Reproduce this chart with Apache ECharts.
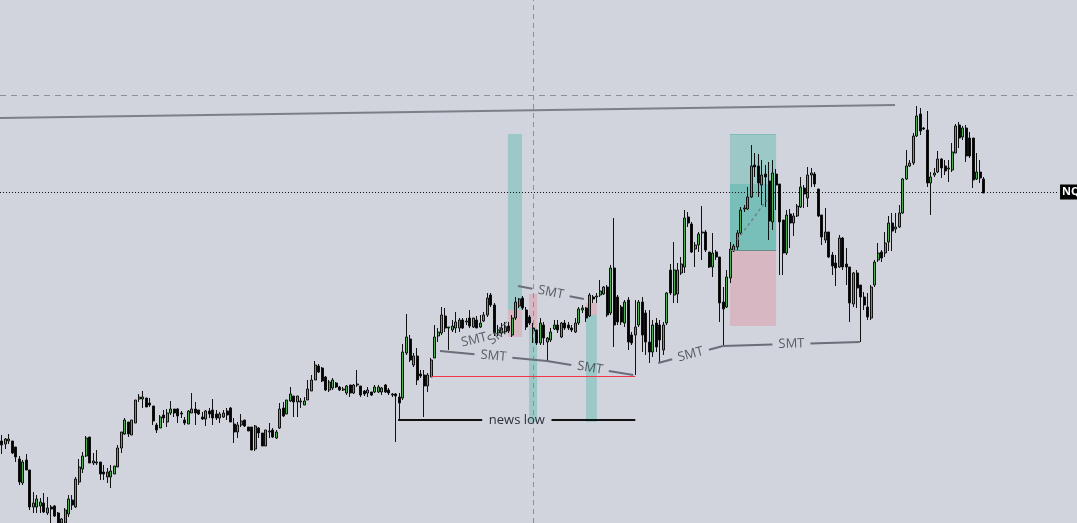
<!DOCTYPE html>
<html><head><meta charset="utf-8">
<script src="https://cdn.jsdelivr.net/npm/echarts@6/dist/echarts.min.js"></script>
<style>html,body{margin:0;padding:0;background:#d1d4dd}#c{width:1077px;height:523px}</style>
</head><body><div id="c"></div>
<script>
// OHLC candles: [open, close, low, high]
const candles = [
[559,555,546,565],[556,561,551,562],[559,561,556,566],[559,547,546,559],[553,543,538,553],[541,518,515,544],[517,538,515,540],[540,530,530,546],[530,493,490,530],[493,497,487,508],
[493,501,487,505],[494,498,487,502],[497,488,487,507],[487,492,485,503],[493,491,477,495],[494,484,483,495],[487,477,474,488],[477,481,475,482],[477,490,475,492],[486,501,483,505],
[500,495,490,505],[493,521,492,523],[518,533,515,541],[531,544,527,548],[544,562,543,564],[563,537,537,563],[537,539,535,547],[537,538,535,550],[538,526,520,538],[528,526,520,535],
[523,528,517,532],[523,529,512,535],[526,534,526,534],[533,552,533,555],[552,568,547,568],[566,580,565,582],[578,566,563,578],[565,580,565,580],[577,600,577,600],[601,603,598,606],
[601,603,592,609],[602,593,593,602],[597,595,593,602],[594,579,575,594],[575,570,567,577],[572,583,572,585],[585,582,577,590],[578,587,573,591],[587,591,585,599],[591,587,583,591],
[591,584,577,592],[587,586,582,589],[580,577,575,583],[576,589,576,590],[587,591,587,607],[591,587,575,598],[590,586,585,590],[583,581,580,588],[581,589,574,590],[589,586,582,592],
[590,582,575,601],[586,582,580,590],[582,586,577,588],[583,587,582,590],[589,585,580,592],[592,578,578,593],[576,568,557,582],[568,575,562,578],[575,579,573,586],[580,574,573,580],
[573,569,569,573],[573,550,550,573],[551,574,549,575],[572,567,562,573],[567,554,554,567],[554,570,554,570],[568,569,562,577],[570,563,562,572],[562,568,561,570],[572,591,571,597],
[592,584,583,598],[586,600,586,600],[599,606,598,613],[604,598,583,604],[598,604,583,604],[598,599,592,602],[595,599,595,603],[600,611,600,620],[609,620,609,625],[620,635,620,639],
[634,628,627,636],[632,619,618,633],[623,610,609,624],[610,618,608,620],[612,620,610,622],[617,613,612,618],[613,610,609,614],[610,611,609,613],[607,614,605,615],[615,607,603,615],
[607,615,606,616],[615,616,613,630],[614,605,603,614],[609,606,604,610],[607,610,603,613],[608,605,604,608],[608,613,607,615],[608,613,607,615],[608,612,605,613],[615,608,607,616],
[610,607,605,612],[606,605,603,607],[606,604,558,607],[603,597,580,607],[602,648,600,656],[647,663,645,686],[661,640,638,665],[635,644,633,647],[644,620,615,652],[626,624,622,630],
[625,614,583,630],[614,625,608,627],[623,640,623,642],[642,663,642,675],[664,668,658,672],[667,685,665,693],[684,672,668,692],[672,673,650,673],[670,674,668,680],[672,678,667,688],
[672,680,668,682],[680,672,671,682],[678,679,675,682],[682,674,672,690],[673,682,672,682],[680,672,672,684],[673,677,672,685],[679,685,678,688],[685,702,683,707],[705,695,693,707],
[695,667,664,697],[667,670,664,675],[667,672,665,677],[668,673,666,678],[674,669,667,678],[665,682,663,685],[682,698,680,703],[694,701,692,702],[702,692,690,704],[690,673,670,693],
[683,677,675,685],[672,669,657,677],[670,657,655,670],[657,677,655,682],[675,662,655,678],[658,662,639,663],[660,668,658,672],[671,675,670,680],[675,670,667,680],[663,677,662,678],
[677,672,670,680],[675,672,670,678],[672,670,668,675],[668,677,667,682],[677,691,675,693],[690,692,687,695],[692,682,678,693],[684,705,683,707],[703,701,697,705],[703,704,697,707],
[705,709,703,720],[706,713,705,714],[713,685,683,715],[687,732,685,735],[732,675,653,782],[703,678,675,705],[693,678,675,695],[677,698,673,700],[700,658,650,703],[665,657,655,668],
[665,673,625,700],[675,698,673,700],[698,665,648,703],[687,658,645,690],[658,648,637,690],[648,675,643,680],[677,653,648,682],[675,660,638,680],[650,675,645,678],[677,707,675,708],
[730,707,705,736],[705,730,697,758],[706,730,697,737],[727,736,725,743],[733,782,727,790],[783,777,773,788],[776,748,747,778],[751,755,733,758],[755,766,748,768],[767,768,740,794],
[768,750,748,770],[748,733,732,748],[733,747,723,767],[748,743,740,750],[743,697,678,743],[698,691,653,713],[693,723,692,730],[722,751,717,758],[749,754,748,756],[753,767,750,770],
[767,790,765,793],[791,792,788,795],[791,803,790,813],[803,834,802,855],[835,833,823,847],[834,817,803,846],[815,825,795,840],[826,823,793,835],[819,779,760,838],[778,827,770,840],
[826,815,790,831],[816,778,725,816],[780,747,725,780],[747,785,745,790],[786,777,752,791],[777,784,764,787],[784,794,783,796],[793,813,792,823],[812,806,792,815],[802,825,793,833],
[825,827,813,832],[826,816,813,828],[811,784,783,811],[785,763,755,785],[760,768,757,792],[768,743,742,768],[745,734,725,748],[737,732,714,745],[733,762,732,765],[762,733,730,763],
[736,733,715,752],[733,697,678,733],[696,727,693,728],[727,712,692,730],[715,703,658,715],[703,695,690,708],[693,683,680,707],[682,713,680,715],[715,738,713,740],[740,747,738,757],
[748,742,738,750],[747,757,743,768],[758,777,749,784],[777,769,749,787],[771,773,767,787],[773,787,772,795],[787,821,786,822],[821,834,820,850],[834,837,833,840],[837,864,835,867],
[864,884,863,894],[886,869,865,892],[872,871,870,873],[870,817,813,889],[817,823,785,828],[825,827,823,832],[828,841,827,849],[841,832,822,842],[834,829,825,840],[831,832,818,840],
[830,848,828,857],[847,874,847,876],[875,862,852,878],[863,872,860,874],[872,844,838,875],[862,844,842,868],[862,820,812,862],[821,828,820,847],[828,822,817,840],[821,807,807,823]
];
const slotCount = 306;           // candle slots across the window (right side empty)
const lastPrice = 808;
const upperLevel = 905;
const cursorIndex = 151;
const trendLine = [-0.5, 882, 253.8, 895];
const redLevel = [122, 180, 624];
const newsLow = [112.6, 180, 580];
const smtLines = [
  [124.5,649,154.9,639],[154.9,639,179.4,625],[186.5,637,204.9,654],[204.9,654,243.8,658],
  [146.7,714,165.4,701]
];
const smtTags = [[130.6,657,137.8,663],[138.6,658,144.4,674]];
const tealZones = [[143.8,866,147.8,690],[149.8,672,152.1,578],[166,685,169.1,578],[206.9,866,220,750],[206.9,816,220,750]];
const pinkZones = [[143.8,690,147.8,663],[149.8,706,152.1,672],[166,697,169.1,685],[206.9,750,220,674]];
const tradeLine = [208.9,760,217.4,800];

const BG = '#d1d4dd';
const cats = Array.from({length: slotCount}, (_, i) => String(i));
const seg = (a, style, label) => {
  const d = [{coord:[a[0],a[1]]},{coord:[a[2],a[3]]}];
  if (style) d[0].lineStyle = style;
  if (label) d[0].label = label;
  return d;
};

const baseLines = [];
baseLines.push({yAxis: upperLevel, lineStyle:{color:'#8c8f98', type:[6,5], width:1}});
baseLines.push({xAxis: cursorIndex, lineStyle:{color:'#8c8f98', type:[5,4], width:1}});
baseLines.push(seg(trendLine, {color:'#7c7f88', width:2, type:'solid'}));
baseLines.push(seg([-0.5,lastPrice,300.4,lastPrice], {color:'#111', width:1, type:[1,2]},
  {show:true, position:'end', distance:1, formatter:'NQ1!', color:'#fff', backgroundColor:'#000',
   fontWeight:'bold', fontSize:11, fontFamily:'Open Sans', padding:[2,3,2,2]}));
baseLines.push(seg([redLevel[0],redLevel[2],redLevel[1],redLevel[2]], {color:'#f23645', width:1, type:'solid'}));
baseLines.push(seg([newsLow[0],newsLow[2],136.5,newsLow[2]], {color:'#111', width:2, type:'solid'}));
baseLines.push(seg([156.2,newsLow[2],newsLow[1],newsLow[2]], {color:'#111', width:2, type:'solid'}));
baseLines.push(seg([136.5,newsLow[2],156.2,newsLow[2]], {color:'rgba(0,0,0,0)', width:1, type:'solid'},
  {show:true, position:'middle', distance:0, verticalAlign:'middle', formatter:'news low', color:'#2e3038', fontSize:13, fontFamily:'Open Sans'}));
baseLines.push(seg(tradeLine, {color:'#6f8583', width:1.5, type:[3,3]}));
baseLines.push(seg([206.9,750,220,750], {color:'#6f8a86', width:1, type:'solid'}));
baseLines.push(seg([206.9,866,220,866], {color:'#7fbcb5', width:1, type:'solid'}));

const areaData = [];
tealZones.forEach(z => areaData.push([{coord:[z[0],z[1]], itemStyle:{color:'rgba(34,171,148,0.30)'}},{coord:[z[2],z[3]]}]));
pinkZones.forEach(z => areaData.push([{coord:[z[0],z[1]], itemStyle:{color:'rgba(242,54,69,0.18)'}},{coord:[z[2],z[3]]}]));

const chart = echarts.init(document.getElementById('c'), null, {renderer:'canvas'});
chart.setOption({
  animation:false,
  backgroundColor:BG,
  grid:{left:0,right:0,top:0,bottom:0},
  xAxis:[
    {type:'category', data:cats, show:false, boundaryGap:true},
    {type:'value', min:-0.5, max:slotCount-0.5, show:false}
  ],
  yAxis:{type:'value', min:477, max:1000, show:false, splitLine:{show:false}},
  series:[
    {type:'scatter', xAxisIndex:1, data:[], z:1, silent:true,
     markArea:{silent:true, data:areaData}},
    {type:'candlestick', data:candles, barWidth:2.5, z:2,
     itemStyle:{color:'#4caf50', color0:'#000', borderColor:'#111', borderColor0:'#111', borderWidth:1}},
    {type:'scatter', xAxisIndex:1, data:[], z:3, silent:true,
     markLine:{silent:true, symbol:['none','none'], label:{show:false}, data:baseLines}}
  ]
});

// SMT lines: split around a rotated label placed at the midpoint
const toPx = p => chart.convertToPixel({seriesIndex:2}, p);
const smtStyle = {color:'#6b6e78', width:2, type:'solid'};
const lineData = baseLines.slice();
const labelData = [];
const GAP = 19; // half gap in pixels around the text
smtLines.concat(smtTags).forEach((s, k) => {
  const a = toPx([s[0], s[1]]), b = toPx([s[2], s[3]]);
  const ang = Math.atan2(a[1] - b[1], b[0] - a[0]) * 180 / Math.PI;
  const mid = [(s[0]+s[2])/2, (s[1]+s[3])/2];
  labelData.push({value: mid, label:{rotate: ang}});
  if (k < smtLines.length) {
    const len = Math.hypot(b[0]-a[0], b[1]-a[1]);
    const f = Math.min(0.45, GAP / len);
    const p1 = [mid[0] - (s[2]-s[0])*f, mid[1] - (s[3]-s[1])*f];
    const p2 = [mid[0] + (s[2]-s[0])*f, mid[1] + (s[3]-s[1])*f];
    lineData.push(seg([s[0], s[1], p1[0], p1[1]], smtStyle));
    lineData.push(seg([p2[0], p2[1], s[2], s[3]], smtStyle));
  }
});
chart.setOption({series:[{}, {}, {markLine:{data:lineData}}, {
  type:'scatter', xAxisIndex:1, z:4, silent:true, symbolSize:0,
  label:{show:true, position:'inside', formatter:'SMT', color:'#3a3c45', fontSize:13, fontFamily:'Open Sans'},
  data:labelData
}]});
</script></body></html>
